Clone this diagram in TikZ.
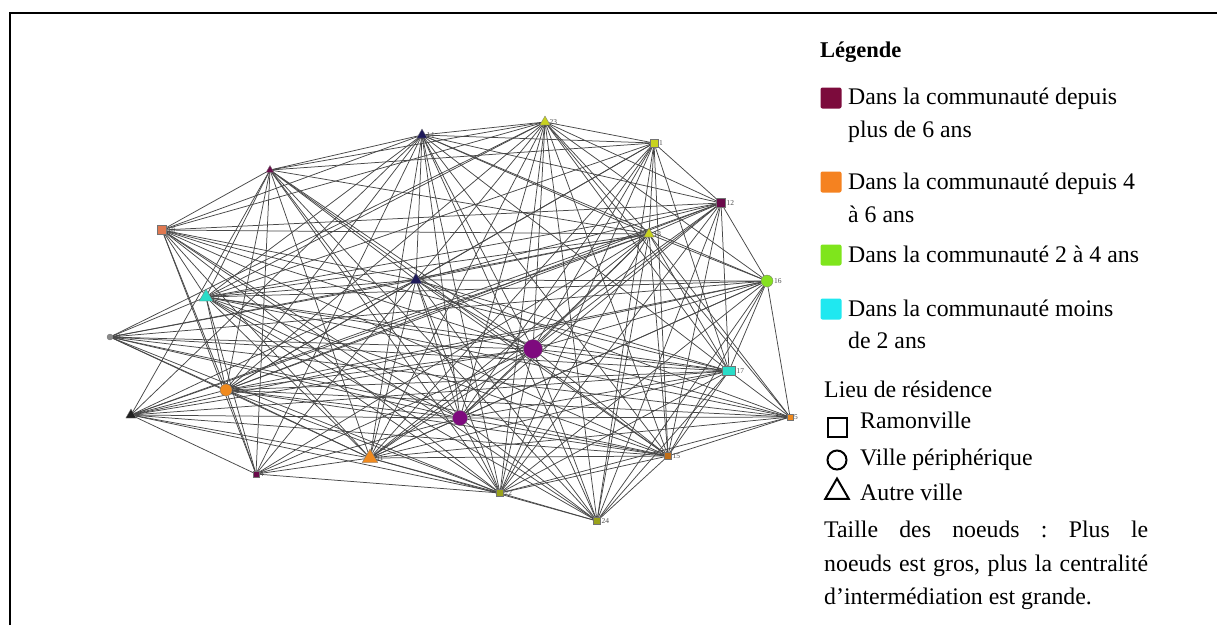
\documentclass[tikz,border=0pt]{standalone}
\usepackage{fontspec}
\setmainfont{Liberation Serif}
\usetikzlibrary{shapes.geometric,backgrounds}
\definecolor{navy}{HTML}{1E1A5A}
\definecolor{yg}{HTML}{C8D21E}
\definecolor{ygd}{HTML}{9AA21A}
\definecolor{purp}{HTML}{7E0A7E}
\definecolor{maro}{HTML}{6A0A4A}
\definecolor{grn}{HTML}{86E020}
\definecolor{orng}{HTML}{F08A1E}
\definecolor{salm}{HTML}{E07850}
\definecolor{cyn}{HTML}{2ADCC8}
\definecolor{gry}{HTML}{8A8A8A}
\definecolor{drk}{HTML}{202020}
\definecolor{lmaro}{HTML}{7C0B3C}
\definecolor{lorng}{HTML}{F58220}
\definecolor{lgrn}{HTML}{7FE51C}
\definecolor{lcyn}{HTML}{1FE8F0}
\tikzset{
  nd/.style={draw=black!55, line width=0.3pt, inner sep=0pt, outer sep=0pt},
  sq/.style={nd, rectangle, minimum size=#1},
  cir/.style={nd, circle, minimum size=#1},
  tri/.style={nd, regular polygon, regular polygon sides=3, minimum size=#1},
  lbl/.style={font=\fontsize{7.5}{8}\selectfont, text=black!70, inner sep=1pt},
  edge/.style={draw=black!72, line width=0.75pt},
  legtxt/.style={font=\fontsize{23.8}{32}\selectfont, anchor=base west, inner sep=0pt},
  legbox/.style={rounded corners=2pt, minimum width=21pt, minimum height=21pt, inner sep=0pt},
  symb/.style={draw=black, line width=2pt, inner sep=0pt}
}
\begin{document}
\frenchspacing
\begin{tikzpicture}[x=1pt,y=-1pt]
\useasboundingbox (0,0) rectangle (1217,625);
% frame
\draw[line width=2.2pt] (10,625) -- (10,13) -- (1217,13);
% nodes
\node[tri=12, fill=navy, label={[lbl]0:14}] (n14) at (422,135) {};
\node[tri=12, fill=yg, label={[lbl]0:23}] (n23) at (545,122) {};
\node[sq=8, fill=yg, label={[lbl]0:1}] (n1) at (654,143) {};
\node[sq=9, fill=maro, label={[lbl]0:12}] (n12) at (721,203) {};
\node[tri=12, fill=yg, label={[lbl]0:13}] (n13) at (649,234) {};
\node[cir=12, fill=grn, label={[lbl]0:16}] (n16) at (767,281) {};
\node[tri=9, fill=maro] (nT) at (270,170) {};
\node[sq=9, fill=salm, label={[lbl]0:18}] (n18) at (162,230) {};
\node[tri=14, fill=navy, label={[lbl]0:2}] (n2) at (416,280) {};
\node[tri=16, fill=cyn, label={[lbl]0:19}] (n19) at (206,297) {};
\node[cir=6, fill=gry, label={[lbl]0:21}] (n21) at (110,337) {};
\node[cir=19, fill=purp, label={[lbl]0:7}] (n7) at (533,349) {};
\node[sq=9, minimum width=13pt, fill=cyn, label={[lbl]0:17}] (n17) at (729,371) {};
\node[cir=12, fill=orng, label={[lbl]0:3}] (n3) at (226,390) {};
\node[tri=12, fill=drk, label={[lbl]0:8}] (n8) at (131,415) {};
\node[cir=15, fill=purp] (n9) at (460,418) {};
\node[sq=6, fill=orng, label={[lbl]0:5}] (n5) at (790,417) {};
\node[sq=6, fill=maro, label={[lbl]0:4}] (n4) at (256,474) {};
\node[tri=18, fill=orng, label={[lbl]0:11}] (n11) at (370,458) {};
\node[sq=7, fill=orng!80!black, label={[lbl]0:15}] (n15) at (668,456) {};
\node[sq=7, fill=ygd, label={[lbl]0:22}] (n22) at (500,493) {};
\node[sq=7, fill=ygd, label={[lbl]0:24}] (n24) at (597,521) {};
% edges
\begin{scope}[on background layer]
\foreach \a/\bs in {
 14/{23,1,12,13,16,T,18,2,19,3,11,9,7,22,15,24,8,4,17},
 23/{1,12,13,16,T,18,2,19,7,17,3,11,22,24,15,5,9,21},
 1/{12,13,2,19,9,15,22,17,24,T,7,3,11},
 12/{13,16,18,2,19,9,15,11,24,17,7,3,22,8},
 13/{16,T,18,2,19,21,7,3,9,11,15,22,24,5,8,4,17},
 16/{2,19,21,7,3,9,11,15,22,24,5,17,8},
 T/{18,19,2,7,3,8,4,11,9,15,22,24},
 18/{19,3,4,11,7,9,2,17,15,22,24},
 2/{19,3,8,4,11,9,7,22,24,15,17,5,21},
 19/{21,7,9,3,4,11,22,15,17,5,24},
 21/{7,3,9,11,15,17,5,22},
 7/{3,8,4,11,9,22,24,15,17,5},
 17/{9,3,8,11,15,22,24,5},
 3/{9,8,4,11,22,15,5},
 8/{4,11,9,15,22},
 9/{4,11,22,15,24,5},
 5/{15,22,11},
 4/{11,22},
 11/{22,15,24},
 15/{22,24},
 22/{24}}{
  \foreach \b in \bs { \draw[edge] (n\a) -- (n\b); }
}
\end{scope}
% legend
\node[legtxt, font=\fontsize{22.5}{28}\selectfont\bfseries] (lg) at (820,57) {Légende};
\node[legbox, fill=lmaro] (b1) at (831,98) {};
\node[legtxt] (t1a) at (848,104) {Dans la communauté depuis};
\node[legtxt] (t1b) at (848,137) {plus de 6 ans};
\node[legbox, fill=lorng] (b2) at (831,182) {};
\node[legtxt] (t2a) at (848,189) {Dans la communauté depuis 4};
\node[legtxt] (t2b) at (848,222) {à 6 ans};
\node[legbox, fill=lgrn] (b3) at (831,255) {};
\node[legtxt] (t3) at (848,262) {Dans la communauté 2 à 4 ans};
\node[legbox, fill=lcyn] (b4) at (831,309) {};
\node[legtxt] (t4a) at (848,316) {Dans la communauté moins};
\node[legtxt] (t4b) at (848,348) {de 2 ans};
\node[legtxt] (t5) at (824,397) {Lieu de résidence};
\node[symb, rectangle, minimum size=19pt] (s1) at (837,427) {};
\node[legtxt] (t6) at (860,428) {Ramonville};
\node[symb, circle, minimum size=19pt] (s2) at (837,460) {};
\node[legtxt] (t7) at (860,465) {Ville périphérique};
\node[symb, regular polygon, regular polygon sides=3, minimum size=27pt] (s3) at (837,492) {};
\node[legtxt] (t8) at (860,500) {Autre ville};
\node[legtxt, anchor=north west, text width=324pt, align=justify, font=\fontsize{23.8}{33.5}\selectfont] (t9) at (824,521)
 {Taille des noeuds : Plus le\linebreak noeuds est gros, plus la centralité\linebreak d’intermédiation est grande.};
\end{tikzpicture}
\end{document}
